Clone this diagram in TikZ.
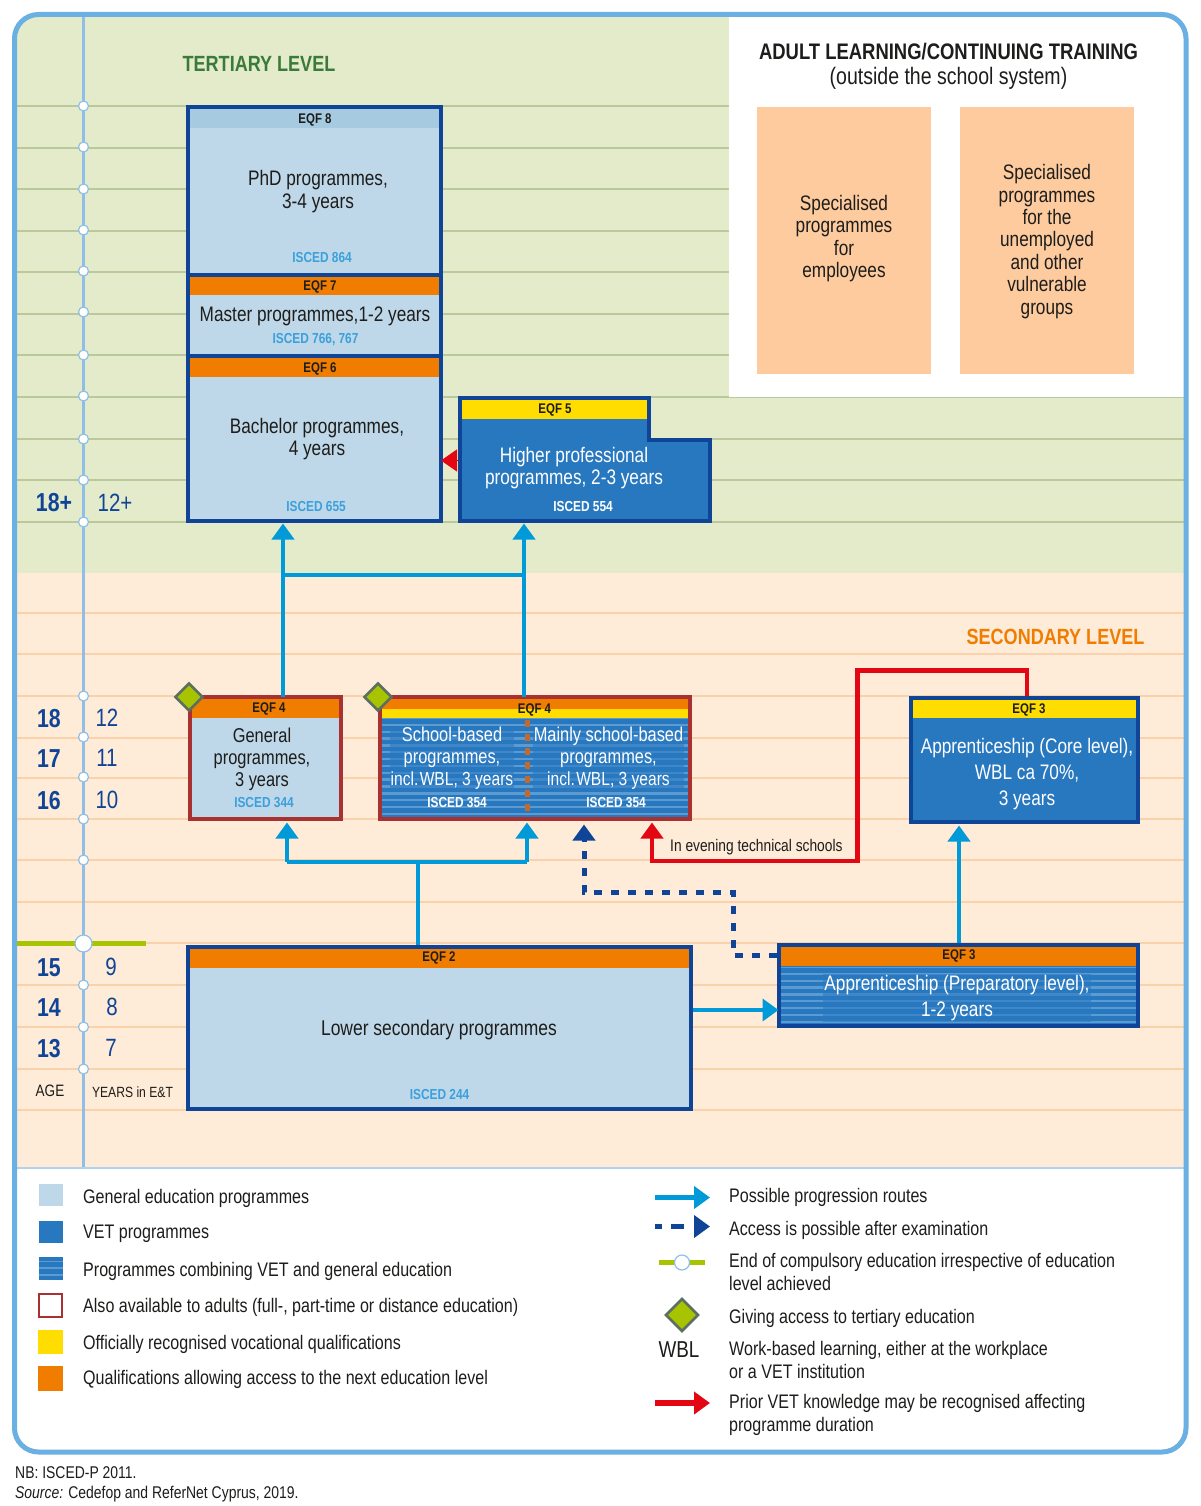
\documentclass[tikz,border=0pt]{standalone}
\usepackage{fontspec}
\setmainfont[FakeStretch=0.82]{Liberation Sans}
\usetikzlibrary{arrows.meta}
\definecolor{framec}{HTML}{6AB0E2}
\definecolor{axisc}{HTML}{8FBFE6}
\definecolor{greenbg}{HTML}{E3EBCB}
\definecolor{peachbg}{HTML}{FEEBD8}
\definecolor{greenln}{HTML}{BAC99B}
\definecolor{peachln}{HTML}{F9D2AC}
\definecolor{navy}{HTML}{0F4496}
\definecolor{genblue}{HTML}{BFD8E9}
\definecolor{genhead}{HTML}{A6CBE0}
\definecolor{vetblue}{HTML}{2878C0}
\definecolor{stripec}{HTML}{5B9BD2}
\definecolor{orangeq}{HTML}{F07D00}
\definecolor{yellowq}{HTML}{FFDD00}
\definecolor{adultred}{HTML}{A83232}
\definecolor{progc}{HTML}{009AD8}
\definecolor{redc}{HTML}{E30613}
\definecolor{limec}{HTML}{A8C400}
\definecolor{diamc}{HTML}{5D7060}
\definecolor{isced}{HTML}{3BA0DC}
\definecolor{inkc}{HTML}{1D1D1B}
\definecolor{tertc}{HTML}{3A7A3A}
\definecolor{adultbox}{HTML}{FDCB9E}
\definecolor{dashbrown}{HTML}{C06A30}
\tikzset{
  bodytxt/.style={text=inkc,align=center,font=\fontsize{21}{22.4}\selectfont,inner sep=0pt,yshift=-2pt},
  whitetxt/.style={bodytxt,text=white},
  softtxt/.style={whitetxt,fill=vetblue,fill opacity=.55,text opacity=1,inner sep=1pt,font=\fontsize{20}{22}\selectfont},
  eqftxt/.style={text=inkc,font=\bfseries\fontsize{14}{16}\selectfont,inner sep=0pt,yshift=-1pt},
  iscedtxt/.style={text=isced,font=\bfseries\fontsize{14.5}{16}\selectfont,inner sep=0pt},
  iscedw/.style={iscedtxt,text=white},
  levelt/.style={font=\bfseries\fontsize{22}{26}\selectfont,inner sep=0pt},
  agebold/.style={text=navy,font=\bfseries\fontsize{26}{28}\selectfont,inner sep=0pt},
  agereg/.style={text=navy,font=\fontsize{25}{27}\selectfont,inner sep=0pt},
  legtxt/.style={anchor=west,align=left,text=inkc,font=\fontsize{19.6}{22.2}\selectfont,inner sep=0pt,yshift=-2pt},
  foott/.style={anchor=west,text=inkc,font=\fontsize{17}{20}\selectfont,inner sep=0pt,yshift=-1pt},
  tick/.style={circle,draw=axisc,fill=white,line width=1.2pt,minimum size=10pt,inner sep=0pt},
  bigtick/.style={tick,minimum size=17pt},
  diam/.style={diamond,fill=limec,draw=diamc,line width=2.6pt,minimum size=28pt,inner sep=0pt},
  prog/.style={draw=progc,line width=4.5pt,-{Triangle[length=16pt,width=22pt]}},
  progline/.style={draw=progc,line width=4.5pt},
  redar/.style={draw=redc,line width=4.5pt,-{Triangle[length=16pt,width=22pt]}},
  examar/.style={draw=navy,line width=5pt,dash pattern=on 8pt off 9pt,-{Triangle[length=16pt,width=22pt]}},
  boxline/.style={line width=4pt},
}
\usetikzlibrary{shapes.geometric}
\newcommand{\rnode}[7][]{%
  \pgfmathsetmacro\rw{#5-#3}\pgfmathsetmacro\rh{#6-#4}%
  \node[#1,anchor=north west,minimum width=\rw pt,minimum height=\rh pt,inner sep=0pt,outer sep=0pt] (#2) at (#3,#4) {#7};}
\newcommand{\stripes}[4]{%
  \begin{scope}
    \clip (#1,#2) rectangle (#3,#4);
    \pgfmathsetmacro\ynext{#2+6.85}
    \foreach \yy in {#2,\ynext,...,#4}{\draw[stripec,line width=2.4pt] (#1,\yy) -- (#3,\yy);}
  \end{scope}}
\newcommand{\wblline}{{\fontsize{19}{22}\selectfont incl.\kern-3pt\ WBL, 3 years}}
\begin{document}
\begin{tikzpicture}[x=1pt,y=-1pt]
\useasboundingbox (0,0) rectangle (1200,1506);
\fill[white] (0,0) rectangle (1200,1506);
% backgrounds
\begin{scope}
  \clip[rounded corners=24pt] (14.5,14.5) rectangle (1186,1452);
  \fill[greenbg] (14,14) rectangle (1186,573);
  \fill[peachbg] (14,573) rectangle (1186,1167);
  \foreach \yy in {106,148,189,231,272,314,355,397,439,480,522}{\draw[greenln,line width=1.3pt] (14,\yy) -- (1186,\yy);}
  \foreach \yy in {613,654,696,738,778,819,860,902,943,985,1027,1069,1110}{\draw[peachln,line width=1.3pt] (14,\yy) -- (1186,\yy);}
  \fill[white] (729,14) rectangle (1186,397);
  \fill[white] (14,1168) rectangle (1186,1452);
\end{scope}
\draw[axisc!70,line width=2pt] (17,1167.5) -- (1184,1167.5);
% axis
\coordinate (axtop) at (83.5,16);
\coordinate (axbot) at (83.5,1167);
\draw[axisc,line width=2.4pt] (axtop) -- (axbot);
\coordinate (cpL) at (17,943.5);
\coordinate (cpR) at (146,943.5);
\draw[limec,line width=4.5pt] (cpL) -- (cpR);
\foreach \yy [count=\i] in {106,147,189,230,271,312,355,396,439,480,522,696,737,777,819,860,985,1027,1069}{\node[tick] (t\i) at (83.5,\yy) {};}
\node[bigtick] (tcomp) at (83.5,943.5) {};
% frame
\draw[framec,line width=5pt,rounded corners=24pt] (14.5,14.5) rectangle (1186,1452);
% titles
\node[levelt,text=tertc] (tertiary) at (259,64) {TERTIARY LEVEL};
\node[levelt,text=orangeq] (secondary) at (1055.5,637) {SECONDARY LEVEL};
\node[inner sep=0pt,text=inkc,font=\bfseries\fontsize{22.5}{26}\selectfont] (adult) at (948.5,52) {ADULT LEARNING/CONTINUING TRAINING};
\node[inner sep=0pt,text=inkc,font=\fontsize{23.8}{26}\selectfont] (outside) at (948.5,78) {(outside the school system)};
\rnode[fill=adultbox]{adA}{757}{107}{931}{374}{}
\rnode[fill=adultbox]{adB}{960}{107}{1134}{374}{}
\node[bodytxt] (adAt) at (844,236.5) {Specialised\\programmes\\for\\employees};
\node[bodytxt] (adBt) at (1047,239.5) {Specialised\\programmes\\for the\\unemployed\\and other\\vulnerable\\groups};
% connectors (under boxes)
\coordinate (jA) at (283,575);
\coordinate (jB) at (524,575);
\coordinate (jC) at (287,862);
\coordinate (jD) at (527,862);
\coordinate (jE) at (418,862);
\coordinate (jF) at (959,862);
\coordinate (rA) at (1027,670.5);
\coordinate (rB) at (857.5,670.5);
\coordinate (rC) at (857.5,861);
\coordinate (rD) at (652,861);
\coordinate (dA) at (733,955);
\coordinate (dB) at (733,892);
\coordinate (dC) at (584,892);
% boxes: column of higher education
\rnode[fill=genblue,draw=navy,boxline]{phd}{188}{107.5}{441}{274.5}{}
\rnode[fill=genhead]{phdh}{190}{109.5}{439}{128}{}
\rnode[fill=genblue,draw=navy,boxline]{master}{188}{274.5}{441}{356}{}
\rnode[fill=orangeq]{masterh}{190}{276.5}{439}{295}{}
\rnode[fill=genblue,draw=navy,boxline]{bachelor}{188}{356}{441}{520.5}{}
\rnode[fill=orangeq]{bachelorh}{190}{358}{439}{376.5}{}
\node[eqftxt] (l8) at (315,119) {EQF 8};
\node[eqftxt] (l7) at (320,286) {EQF 7};
\node[eqftxt] (l6) at (320,368) {EQF 6};
\node[bodytxt] (phdt) at (318,189.5) {PhD programmes,\\3-4 years};
\node[bodytxt] (mastert) at (315,314) {Master programmes,1-2 years};
\node[bodytxt] (bacht) at (317,437) {Bachelor programmes,\\4 years};
\node[iscedtxt] (i864) at (322,258) {ISCED 864};
\node[iscedtxt] (i766) at (315.5,340) {ISCED 766, 767};
\node[iscedtxt] (i655) at (316,507) {ISCED 655};
% EQF 5 box
\node[minimum width=250pt,minimum height=122.5pt,inner sep=0pt,outer sep=0pt,anchor=north west] (hp) at (460,398) {};
\fill[vetblue] (hp.north west) -- (649,398) -- (649,440) -- (hp.north east |- 0,440) -- (hp.south east) -- (hp.south west) -- cycle;
\rnode[fill=yellowq]{hph}{462}{400}{647.5}{419}{}
\draw[navy,boxline,line join=miter] (hp.north west) -- (649,398) -- (649,440) -- (hp.north east |- 0,440) -- (hp.south east) -- (hp.south west) -- cycle;
\node[eqftxt] (l5) at (555,409) {EQF 5};
\node[whitetxt] (hpt) at (574,466) {Higher professional\\programmes, 2-3 years};
\node[iscedw] (i554) at (583,507) {ISCED 554};
\coordinate (hpArrow) at (458,460.5);
\draw[redar,line width=1pt] (hpArrow) -- (bachelor.east |- hpArrow);
% progression to tertiary
\rnode[fill=genblue,draw=adultred,boxline]{genb}{190}{697}{341}{818.5}{}
\rnode[fill=orangeq]{genh}{192}{699}{339}{717.5}{}
\rnode[fill=vetblue]{schb}{380}{697}{689.5}{818.5}{}
\stripes{380}{718}{689.5}{818.5}
\rnode[fill=orangeq]{schh}{382}{699}{687.5}{708.5}{}
\rnode[fill=yellowq]{schy}{382}{708.5}{687.5}{718}{}
\draw[adultred,boxline] (schb.north west) rectangle (schb.south east);
\draw[prog,shorten >=3pt] (genb.north -| jA) -- (bachelor.south -| jA);
\draw[prog,shorten >=3pt] (schb.north -| jB) -- (hp.south -| jB);
\draw[progline] (jA) -- (jB);
\draw[dashbrown,line width=5pt,dash pattern=on 7pt off 7pt] (527,720) -- (527,816);
\node[eqftxt] (l4a) at (269,708) {EQF 4};
\node[eqftxt] (l4b) at (534.5,709) {EQF 4};
\node[bodytxt,font=\fontsize{20}{22}\selectfont] (gent) at (262,757) {General\\programmes,\\3 years};
\node[iscedtxt] (i344) at (264,803) {ISCED 344};
\node[softtxt] (scha) at (452,756.5) {School-based\\programmes,\\\wblline};
\node[softtxt] (schc) at (608.5,756.5) {Mainly school-based\\programmes,\\\wblline};
\node[iscedw] (i354a) at (457,803) {ISCED 354};
\node[iscedw] (i354b) at (616,803) {ISCED 354};
\node[diam] (dg) at (189,697) {};
\node[diam] (ds) at (378,697) {};
% core apprenticeship
\rnode[fill=vetblue,draw=navy,boxline]{core}{910.5}{697.5}{1138}{822}{}
\rnode[fill=yellowq]{coreh}{912.5}{699.5}{1136}{717.5}{}
\node[eqftxt] (l3a) at (1029,709) {EQF 3};
\node[whitetxt,font=\fontsize{21}{26}\selectfont] (coret) at (1027,772) {Apprenticeship (Core level),\\WBL ca 70\%,\\3 years};
% preparatory apprenticeship
\rnode[fill=vetblue]{prep}{778.5}{945}{1138}{1026}{}
\stripes{778.5}{967}{1138}{1026}
\rnode[fill=orangeq]{preph}{780.5}{947}{1136}{965.5}{}
\draw[navy,boxline] (prep.north west) rectangle (prep.south east);
\node[eqftxt] (l3b) at (959,955) {EQF 3};
\node[softtxt,font=\fontsize{21}{26}\selectfont] (prept) at (957,996) {Apprenticeship (Preparatory level),\\1-2 years};
% lower secondary
\rnode[fill=genblue,draw=navy,boxline]{lower}{188}{946.5}{691}{1108.5}{}
\rnode[fill=orangeq]{lowerh}{190}{948.5}{689}{967.5}{}
\node[eqftxt] (l2) at (439,957) {EQF 2};
\node[bodytxt,font=\fontsize{21.3}{24}\selectfont] (lowert) at (439,1028) {Lower secondary programmes};
\node[iscedtxt] (i244) at (439.5,1094) {ISCED 244};
% routes
\draw[progline,shorten <=2pt] (lower.north -| jE) -- (jE);
\draw[progline,line cap=square] (jC) -- (jD);
\draw[prog,shorten >=4pt] (jC) -- (genb.south -| jC);
\draw[prog,shorten >=4pt] (jD) -- (schb.south -| jD);
\draw[prog,shorten <=2pt,shorten >=3.5pt] (prep.north -| jF) -- (core.south -| jF);
\coordinate (lwA) at (692,1010);
\draw[prog,shorten <=2pt] (lower.east |- lwA) -- (prep.west |- lwA);
\draw[examar,shorten <=2pt,shorten >=6pt,line join=miter] (prep.west |- dA) -- (dA) -- (dB) -- (dC) -- (schb.south -| dC);
\draw[redar,shorten <=2pt,shorten >=4pt,line join=miter] (core.north -| rA) -- (rA) -- (rB) -- (rC) -- (rD) -- (schb.south -| rD);
\node[anchor=west,text=inkc,font=\fontsize{16.8}{18}\selectfont,inner sep=0pt] (evening) at (670,847) {In evening technical schools};
% age labels
\node[agebold] (a18p) at (54,503) {18+};
\node[agereg] (y12p) at (115,503) {12+};
\node[agebold] (a18) at (49,719) {18};
\node[agereg] (y12) at (107,718) {12};
\node[agebold] (a17) at (49,759) {17};
\node[agereg] (y11) at (107,758) {11};
\node[agebold] (a16) at (49,801) {16};
\node[agereg] (y10) at (107,800) {10};
\node[agebold] (a15) at (49,968) {15};
\node[agereg] (y9) at (111,967) {9};
\node[agebold] (a14) at (49,1008) {14};
\node[agereg] (y8) at (112,1007) {8};
\node[agebold] (a13) at (49,1049) {13};
\node[agereg] (y7) at (111,1048) {7};
\node[text=inkc,font=\fontsize{16.5}{22}\selectfont,inner sep=0pt] (ageh) at (50,1091) {AGE};
\node[text=inkc,font=\fontsize{14.8}{20}\selectfont,inner sep=0pt] (yearsh) at (132.5,1092) {YEARS in E\&T};
% legend left
\rnode[fill=genblue]{s1}{38.5}{1184}{63}{1206}{}
\rnode[fill=vetblue]{s2}{38.5}{1220.5}{63}{1243}{}
\rnode[fill=vetblue]{s3}{38.5}{1257}{63}{1279.5}{}
\stripes{38.5}{1261}{63}{1279.5}
\rnode[fill=white,draw=adultred,line width=2.2pt]{s4}{39}{1294}{62}{1317}{}
\rnode[fill=yellowq]{s5}{38}{1329.5}{63}{1354}{}
\rnode[fill=orangeq]{s6}{38}{1366}{63}{1390.5}{}
\node[legtxt] (t1x) at (83,1196) {General education programmes};
\node[legtxt] (t2x) at (83,1232) {VET programmes};
\node[legtxt] (t3x) at (83,1269) {Programmes combining VET and general education};
\node[legtxt] (t4x) at (83,1305) {Also available to adults (full-, part-time or distance education)};
\node[legtxt] (t5x) at (83,1342) {Officially recognised vocational qualifications};
\node[legtxt] (t6x) at (83,1377.5) {Qualifications allowing access to the next education level};
% legend right
\coordinate (lgA0) at (655,1197.5); \coordinate (lgA1) at (710,1197.5);
\draw[prog,line width=5.5pt] (lgA0) -- (lgA1);
\coordinate (lgB0) at (655,1226.5); \coordinate (lgB1) at (710,1226.5);
\draw[examar,line width=5.5pt,dash pattern=on 7pt off 9pt on 13pt off 11pt] (lgB0) -- (lgB1);
\coordinate (lgC0) at (659,1262.5); \coordinate (lgC1) at (705,1262.5);
\draw[limec,line width=5.5pt] (lgC0) -- (lgC1);
\node[tick,minimum size=15pt] (lgCt) at (682,1262.5) {};
\node[diam,minimum size=33pt] (lgD) at (682,1315) {};
\node[text=inkc,font=\fontsize{23}{27}\selectfont,inner sep=0pt] (lgW) at (679,1350) {WBL};
\coordinate (lgR0) at (655,1403); \coordinate (lgR1) at (710,1403);
\draw[redar,line width=5.5pt] (lgR0) -- (lgR1);
\node[legtxt] (r1x) at (729,1195) {Possible progression routes};
\node[legtxt] (r2x) at (729,1228) {Access is possible after examination};
\node[legtxt] (r3x) at (729,1270) {End of compulsory education irrespective of education\\level achieved};
\node[legtxt] (r4x) at (729,1316) {Giving access to tertiary education};
\node[legtxt] (r5x) at (729,1358) {Work-based learning, either at the workplace\\or a VET institution};
\node[legtxt] (r6x) at (729,1413) {Prior VET knowledge may be recognised affecting\\programme duration};
% footer
\node[foott] (nb) at (15,1472) {NB: ISCED-P 2011.};
\node[foott] (src) at (15,1493) {\itshape Source:\upshape{} Cedefop and ReferNet Cyprus, 2019.};
\end{tikzpicture}
\end{document}
